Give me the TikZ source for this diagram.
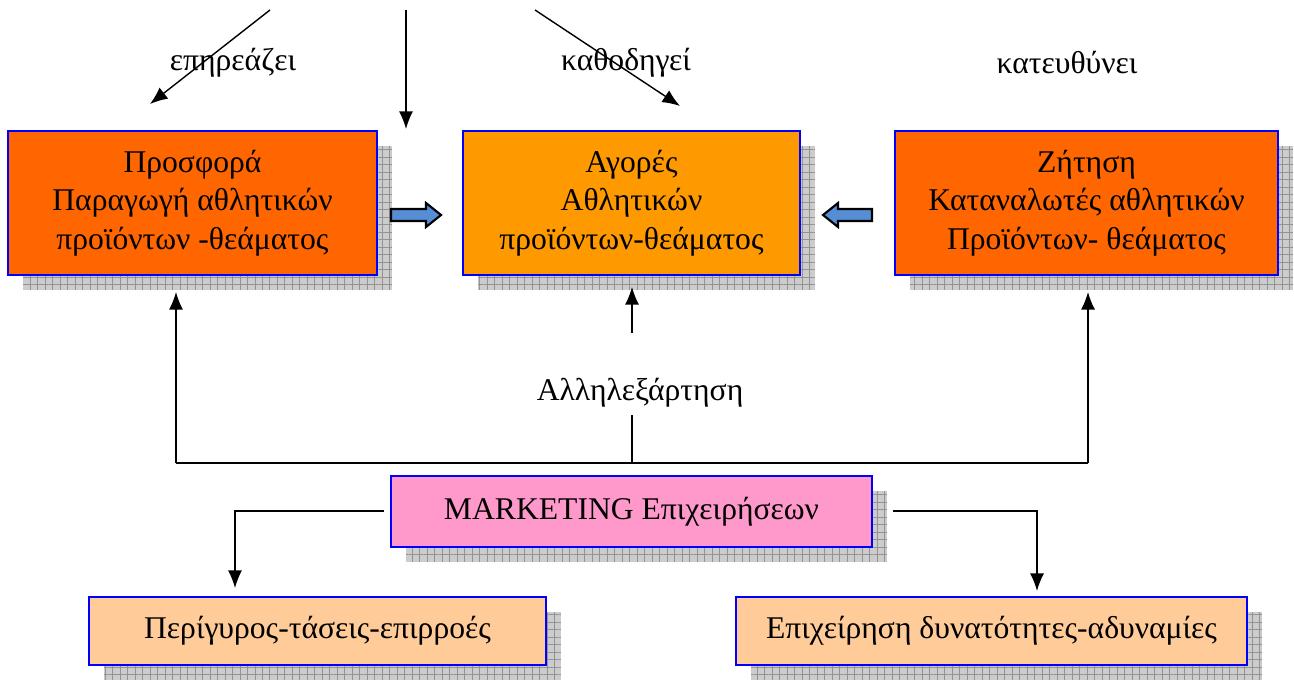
\documentclass[tikz,border=0pt]{standalone}
\usepackage{fontspec}
\setmainfont{Liberation Serif}
\usepackage{tikz}
\usetikzlibrary{arrows.meta,shadows,patterns.meta}
\definecolor{supply}{HTML}{FF6600}
\definecolor{market}{HTML}{FF9900}
\definecolor{mkpink}{HTML}{FF99CC}
\definecolor{peach}{HTML}{FFCC99}
\definecolor{arrblue}{HTML}{558ED5}

\begin{document}
\begin{tikzpicture}[x=0.02cm,y=-0.02cm,
  box/.style={draw=blue,line width=1.1pt,align=center,inner sep=0pt,
    font=\fontsize{18}{21.8}\selectfont,
    drop shadow={shadow xshift=0.3cm,shadow yshift=-0.3cm,opacity=1,fill=gray!40},
    drop shadow={shadow xshift=0.3cm,shadow yshift=-0.3cm,opacity=1,
      pattern={Hatch[angle=0,distance=0.15cm,line width=0.5pt]},pattern color=gray!85}},
  lbl/.style={font=\fontsize{18}{21.8}\selectfont,inner sep=0pt},
  arr/.style={-{Latex[length=10pt,width=8pt]},line width=0.8pt},
  wire/.style={line width=0.8pt},
  barrow/.style={draw=black,line width=1.2pt,fill=arrblue,line join=miter}]
\useasboundingbox (0,0) rectangle (1294,682);

% upper row
\node (supply) at (192.5,203)[box,fill=supply,minimum width=7.38cm,minimum height=2.88cm] {Προσφορά\\Παραγωγή αθλητικών\\προϊόντων -θεάματος};
\node (market) at (631.5,203)[box,fill=market,minimum width=6.74cm,minimum height=2.88cm] {Αγορές\\Αθλητικών\\προϊόντων-θεάματος};
\node (demand) at (1086.5,203)[box,fill=supply,minimum width=7.66cm,minimum height=2.88cm] {Ζήτηση\\Καταναλωτές αθλητικών\\Προϊόντων- θεάματος};

% lower row
\node (mkt) at (631.5,511.5)[box,fill=mkpink,minimum width=9.62cm,minimum height=1.42cm] {MARKETING Επιχειρήσεων};
\node (env) at (317.5,631)[box,fill=peach,minimum width=9.14cm,minimum height=1.36cm] {Περίγυρος-τάσεις-επιρροές};
\node (firm) at (991.5,631)[box,fill=peach,minimum width=10.22cm,minimum height=1.36cm] {Επιχείρηση δυνατότητες-αδυναμίες};

% labels
\node (affects) at (233,63)[lbl] {επηρεάζει};
\node (guides) at (626,63)[lbl] {καθοδηγεί};
\node (directs) at (1067,63)[lbl] {κατευθύνει};
\node (inter) at (640,393)[lbl] {Αλληλεξάρτηση};

% top arrows
\coordinate (t1) at (270,10);  \coordinate (h1) at (150,104);
\coordinate (t2) at (406,10);  \coordinate (h2) at (406,129);
\coordinate (t3) at (535,10);  \coordinate (h3) at (680,106);
\draw [arr] (t1) -- (h1);
\draw [arr] (t2) -- (h2);
\draw [arr] (t3) -- (h3);

% block arrows
\draw [barrow] (391,209) -- (426,209) -- (426,203) -- (441,215) -- (426,227) -- (426,221) -- (391,221) -- cycle;
\draw [barrow] (872,209) -- (838,209) -- (838,203) -- (823,215) -- (838,227) -- (838,221) -- (872,221) -- cycle;

% interdependence
\coordinate (jl) at (176,463);
\coordinate (jm) at (632,463);
\coordinate (jr) at (1088,463);
\coordinate (um) at (632,333);
\draw [wire] (jl) -- (jr);
\draw [wire] (jm) -- (632,415);
\draw [arr] (um) -- (632,287);
\draw [arr] (jl) -- (176,292);
\draw [arr] (jr) -- (1088,292);

% marketing branches
\coordinate (ml) at (384,511);
\coordinate (mr) at (893,511);
\draw [arr] (ml) -| (235,588);
\draw [arr] (mr) -| (1037,591);
\end{tikzpicture}
\end{document}
